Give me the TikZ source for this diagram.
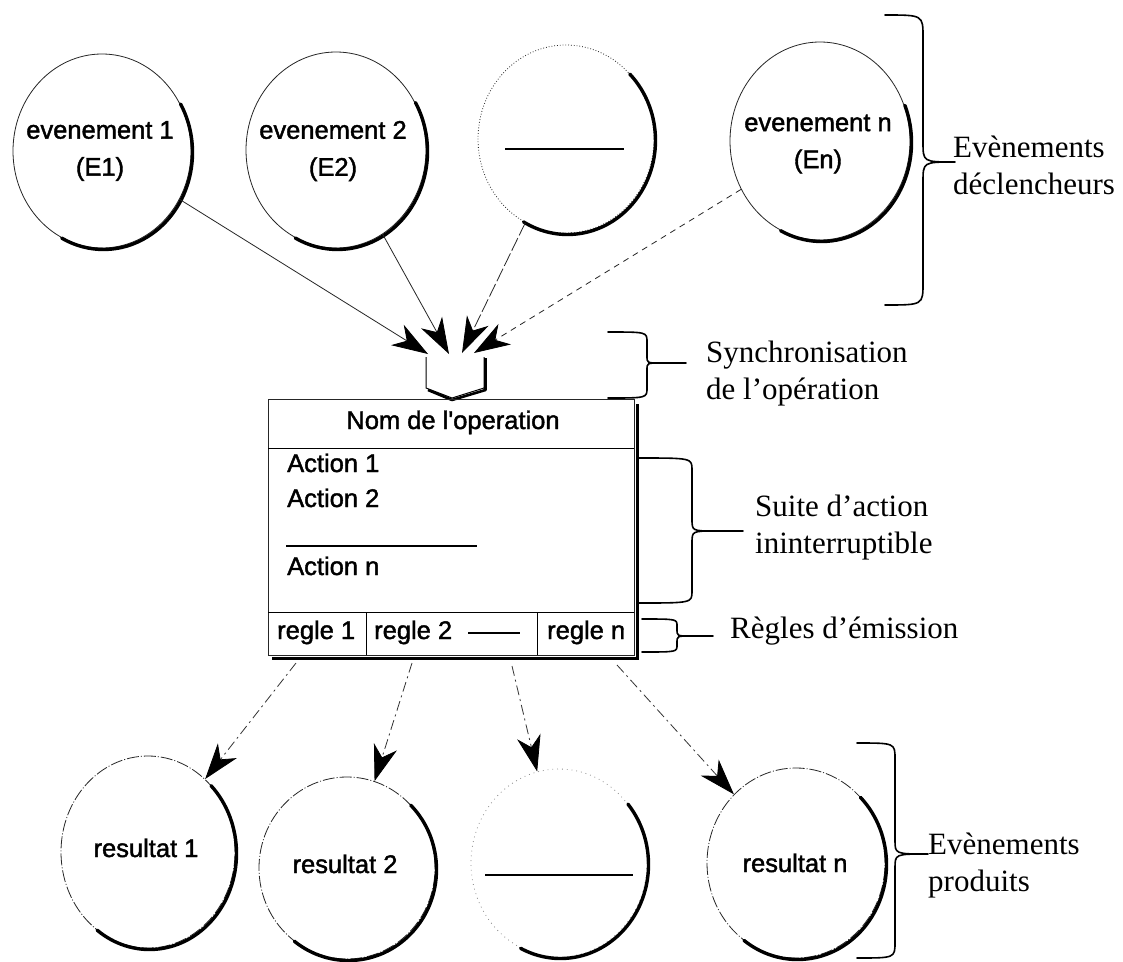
\documentclass[tikz,border=0pt]{standalone}
\usepackage{fontspec}
\setmainfont{Liberation Serif}
\newfontfamily\arialfont{Liberation Sans}[BoldFont={Liberation Sans}, BoldFeatures={FakeBold=1.6}]
\usetikzlibrary{shapes.geometric,arrows.meta,calc}

% curly brace opening to the left: left end x, spine x, curve end x, stem end x,
% top y, bottom y, tip y, arm radius, tip radius (y values measured downwards)
\newcommand\mkbrace[9]{%
  \draw[bracepen]
    (#1,-#5) .. controls (#2,-#5) and (#2,-#5) .. (#2,-#5-#8)
    -- (#2,-#7+#9) .. controls (#2,-#7) and (#2,-#7) .. (#3,-#7) -- (#4,-#7)
    (#3,-#7) .. controls (#2,-#7) and (#2,-#7) .. (#2,-#7-#9)
    -- (#2,-#6+#8) .. controls (#2,-#6) and (#2,-#6) .. (#1,-#6);}

% heavy shadow arc along the lower right of an ellipse node
\newcommand\rimarc[5]{%
  \draw[rim] ($(#1.center)+(1.5pt,-1.5pt)+(#4:#2pt and #3pt)$)
    arc[start angle=#4,end angle=#5,x radius=#2pt,y radius=#3pt];}

\begin{document}
\begin{tikzpicture}[x=1pt,y=1pt,
  bubble/.style={ellipse, draw=black!85, line width=0.8pt, inner sep=0pt},
  rim/.style={line width=3.4pt, line cap=round},
  bracepen/.style={line width=1.6pt, line cap=round, line join=round},
  sans/.style={font=\arialfont\bfseries\fontsize{25.5}{37}\selectfont, inner sep=0pt},
  serif/.style={font=\fontsize{31}{37}\selectfont, inner sep=0pt, align=left},
  headtip/.style={-{Stealth[length=36pt,width=24pt,inset=11pt,black]}},
  inlink/.style={line width=0.8pt, draw=black!85, headtip},
  outlink/.style={line width=0.8pt, draw=black!80,
    dash pattern=on 10pt off 4pt on 2pt off 4pt, headtip},
  blankline/.style={line width=1.5pt},
  shadowpen/.style={line width=3pt}
]
\fill[white] (0,0) rectangle (1123,-961);
\useasboundingbox (0,0) rectangle (1123,-961);

% ---- triggering events ----
\node[bubble, minimum width=178pt, minimum height=194pt] (e1) at (102,-151) {};
\node[bubble, minimum width=180pt, minimum height=196pt] (e2) at (336,-150) {};
\node[bubble, dotted, minimum width=176pt, minimum height=188pt] (e3) at (566,-139) {};
\node[bubble, minimum width=180pt, minimum height=198pt] (en) at (820,-141) {};
\rimarc{e1}{89}{97}{30}{-118}
\rimarc{e2}{90}{98}{30}{-118}
\rimarc{e3}{88}{94}{45}{-120}
\rimarc{en}{90}{99}{22}{-117}

\node[sans, align=center] (e1t) at (100,-151) {evenement 1\\(E1)};
\node[sans, align=center] (e2t) at (333,-151) {evenement 2\\(E2)};
\node[sans, align=center] (ent) at (818,-144) {evenement n\\(En)};
\draw[blankline] (505,-149) -- (624,-149);

% ---- synchronisation bar ----
\coordinate (s1) at (428,-354);
\coordinate (s2) at (449,-354);
\coordinate (s3) at (462,-353);
\coordinate (s4) at (474,-353);
\draw[line width=1pt] (426,-357) -- (426,-388) -- (452,-398) -- (484,-388) -- (484,-357);
\draw[line width=2.6pt, line join=round] (428,-390) -- (452,-400) -- (485.5,-390) -- (485.5,-358);

\draw[inlink] (e1) -- (s1);
\draw[inlink] (e2) -- (s2);
\draw[inlink, dash pattern=on 14pt off 3pt] (e3) -- (s3);
\draw[inlink, dash pattern=on 6pt off 5pt] (en) -- (s4);

% ---- operation box ----
\node[draw=black!85, line width=0.8pt, minimum width=366pt, minimum height=256pt,
      inner sep=0pt] (op) at (451,-527) {};
\draw[shadowpen] (272,-658) -- (637.5,-658) -- (637.5,-404);
\draw[line width=0.8pt] (268,-448) -- (634,-448);
\draw[line width=0.8pt] (268,-612) -- (634,-612);
\draw[line width=0.8pt] (366,-612) -- (366,-655);
\draw[line width=0.8pt] (537,-612) -- (537,-655);

\node[sans, anchor=base] (opname) at (453,-429) {Nom de l\textquotesingle operation};
\node[sans, anchor=base west] (a1) at (287,-472) {Action 1};
\node[sans, anchor=base west] (a2) at (287,-507) {Action 2};
\draw[blankline] (286,-546) -- (477,-546);
\node[sans, anchor=base west] (an) at (287,-575) {Action n};
\node[sans, anchor=base west] (g1) at (277,-639) {regle 1};
\node[sans, anchor=base west] (g2) at (374,-639) {regle 2};
\draw[line width=1.2pt] (468,-633) -- (520,-633);
\node[sans, anchor=base west] (gn) at (547,-639) {regle n};

% ---- produced events ----
\node[bubble, dash pattern=on 12pt off 2pt on 1pt off 2pt, minimum width=174pt, minimum height=192pt] (r1) at (148,-852) {};
\node[bubble, dash pattern=on 12pt off 2pt on 1pt off 2pt, minimum width=176pt, minimum height=182pt] (r2) at (347,-868) {};
\node[bubble, draw=black!45, loosely dotted, minimum width=176pt, minimum height=188pt] (r3) at (559,-863) {};
\node[bubble, dash pattern=on 12pt off 2pt on 1pt off 2pt, minimum width=178pt, minimum height=190pt] (rn) at (796,-863) {};
\rimarc{r1}{87}{96}{45}{-127}
\rimarc{r2}{88}{91}{45}{-128}
\rimarc{r3}{88}{94}{40}{-117}
\rimarc{rn}{89}{95}{45}{-127}

\node[sans, anchor=base] (r1t) at (146,-857) {resultat 1};
\node[sans, anchor=base] (r2t) at (345,-873) {resultat 2};
\node[sans, anchor=base] (rnt) at (795,-872) {resultat n};
\draw[blankline] (485,-875) -- (633,-875);

\coordinate (b1) at (296,-663);
\coordinate (b2) at (412,-663);
\coordinate (b3) at (512,-666);
\coordinate (b4) at (617,-665);
\draw[outlink] (b1) -- (r1);
\draw[outlink] (b2) -- (r2);
\draw[outlink] (b3) -- (r3);
\draw[outlink] (b4) -- (rn);

% ---- braces and their captions ----
\mkbrace{885}{923}{955}{955}{15}{305}{162}{22}{20}
\mkbrace{608}{647}{660}{686}{332}{398}{363}{10}{7}
\mkbrace{638}{692}{716}{743}{458}{603}{531}{12}{12}
\mkbrace{642}{677}{690}{713}{619}{652}{636}{7}{7}
\mkbrace{857}{895}{928}{928}{743}{958}{854}{16}{14}

\node[serif, anchor=west] (lbl1) at (953,-165) {Evènements\\déclencheurs};
\node[serif, anchor=west] (lbl2) at (706,-374) {Synchronisation\\de l’opération};
\node[serif, anchor=west] (lbl3) at (755,-528) {Suite d’action\\ininterruptible};
\node[serif, anchor=base west] (lbl4) at (730,-638) {Règles d’émission};
\node[serif, anchor=west] (lbl5) at (928,-866) {Evènements\\produits};
\end{tikzpicture}
\end{document}
